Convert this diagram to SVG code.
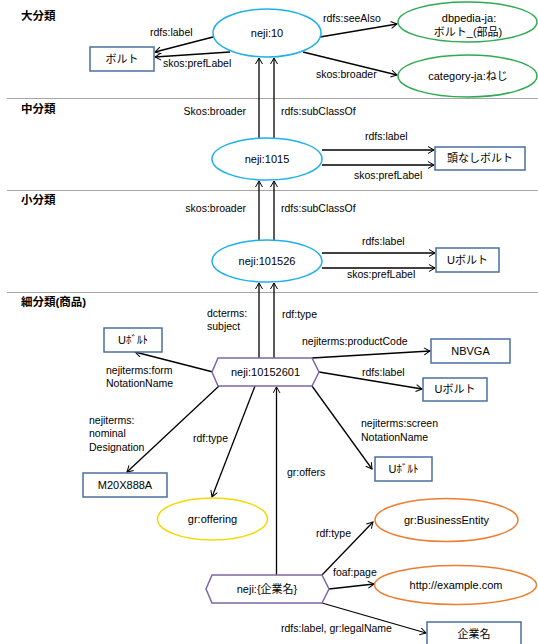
<svg xmlns="http://www.w3.org/2000/svg" width="538" height="644" viewBox="0 0 538 644">
<style>
text{font-family:"Liberation Sans","Noto Sans CJK JP",sans-serif;fill:#000}
.t{font-size:11px;text-anchor:middle}
.l{font-size:10.5px}
.h{font-size:11.5px;font-weight:bold}
.sep{stroke:#a6a6a6;stroke-width:1.2}
.blue{fill:#fff;stroke:#1fb0ea;stroke-width:1.5}
.green{fill:#fff;stroke:#2eaa50;stroke-width:1.5}
.orange{fill:#fff;stroke:#ed7d31;stroke-width:1.5}
.yellow{fill:#fff;stroke:#f5d800;stroke-width:1.5}
.box{fill:#fff;stroke:#4a6fa0;stroke-width:1.5}
.hex{fill:#fff;stroke:#7e65a3;stroke-width:1.5}
.c line{stroke:#000;stroke-width:1.3;marker-end:url(#ah)}
</style>
<defs>
<marker id="ah" markerUnits="userSpaceOnUse" markerWidth="8" markerHeight="9" refX="6.5" refY="4" orient="auto">
<path d="M0.5,0.5 L6.5,4 L0.5,7.5" fill="none" stroke="#000" stroke-width="1"/>
</marker>
</defs>
<rect width="538" height="644" fill="#fff"/>
<g id="sections">
<line class="sep" x1="7" y1="98.5" x2="538" y2="98.5"/>
<line class="sep" x1="7" y1="190.5" x2="538" y2="190.5"/>
<line class="sep" x1="7" y1="292.5" x2="538" y2="292.5"/>
<text class="h" x="21" y="20">大分類</text>
<text class="h" x="21" y="113">中分類</text>
<text class="h" x="21" y="204">小分類</text>
<text class="h" x="21" y="306">細分類(商品)</text>
</g>
<g class="c" id="connectors">
<line x1="213" y1="37" x2="155" y2="52"/>
<line x1="230" y1="52" x2="155" y2="57"/>
<line x1="320" y1="37" x2="397" y2="24"/>
<line x1="303" y1="52" x2="397" y2="75"/>
<line x1="259" y1="138" x2="259" y2="58"/>
<line x1="274" y1="138" x2="274" y2="58"/>
<line x1="322" y1="150" x2="434" y2="150"/>
<line x1="322" y1="165" x2="434" y2="165"/>
<line x1="259" y1="240" x2="259" y2="181"/>
<line x1="274" y1="240" x2="274" y2="181"/>
<line x1="322" y1="253" x2="435" y2="253"/>
<line x1="322" y1="268" x2="435" y2="268"/>
<line x1="259" y1="358" x2="259" y2="283"/>
<line x1="274" y1="358" x2="274" y2="283"/>
<line x1="213" y1="372" x2="135" y2="352"/>
<line x1="312" y1="358" x2="430" y2="351"/>
<line x1="319" y1="372" x2="422" y2="389"/>
<line x1="312" y1="386" x2="372" y2="469"/>
<line x1="219" y1="386" x2="127" y2="472"/>
<line x1="255" y1="386" x2="212" y2="497"/>
<line x1="276.5" y1="575" x2="276.5" y2="387"/>
<line x1="322" y1="575" x2="373" y2="522"/>
<line x1="329" y1="589" x2="374" y2="584"/>
<line x1="322" y1="603" x2="426" y2="633"/>
</g>
<g id="edge-labels">
<text class="l" x="150" y="36">rdfs:label</text>
<text class="l" x="163" y="67">skos:prefLabel</text>
<text class="l" x="323" y="22">rdfs:seeAlso</text>
<text class="l" x="316" y="78">skos:broader</text>
<text class="l" x="246" y="115" text-anchor="end">Skos:broader</text>
<text class="l" x="281" y="115">rdfs:subClassOf</text>
<text class="l" x="365" y="140">rdfs:label</text>
<text class="l" x="354" y="179">skos:prefLabel</text>
<text class="l" x="246" y="212" text-anchor="end">skos:broader</text>
<text class="l" x="281" y="212">rdfs:subClassOf</text>
<text class="l" x="362" y="245">rdfs:label</text>
<text class="l" x="347" y="278">skos:prefLabel</text>
<text class="l" x="207" y="317">dcterms:</text>
<text class="l" x="207" y="330">subject</text>
<text class="l" x="282" y="318">rdf:type</text>
<text class="l" x="302" y="345">nejiterms:productCode</text>
<text class="l" x="106" y="374">nejiterms:form</text>
<text class="l" x="106" y="387">NotationName</text>
<text class="l" x="362" y="376">rdfs:label</text>
<text class="l" x="89" y="424">nejiterms:</text>
<text class="l" x="89" y="437">nominal</text>
<text class="l" x="89" y="451">Designation</text>
<text class="l" x="193" y="442">rdf:type</text>
<text class="l" x="361" y="427">nejiterms:screen</text>
<text class="l" x="361" y="441">NotationName</text>
<text class="l" x="287" y="476">gr:offers</text>
<text class="l" x="316" y="537">rdf:type</text>
<text class="l" x="333" y="576">foaf:page</text>
<text class="l" x="281" y="632">rdfs:label, gr:legalName</text>
</g>
<g id="neji10"><ellipse class="blue" cx="267" cy="33" rx="54" ry="24"/><text class="t" x="267" y="37">neji:10</text></g>
<g id="bolt"><rect class="box" x="90" y="47" width="64" height="24"/><text class="t" x="122" y="63">ボルト</text></g>
<g id="dbpedia"><ellipse class="green" cx="467.5" cy="22" rx="69.5" ry="20"/><text class="t" x="469" y="22">dbpedia-ja:</text><text class="t" x="468" y="36">ボルト_(部品)</text></g>
<g id="category"><ellipse class="green" cx="467.5" cy="76" rx="69.5" ry="21"/><text class="t" x="468" y="80">category-ja:ねじ</text></g>
<g id="neji1015"><ellipse class="blue" cx="267" cy="159" rx="55" ry="21"/><text class="t" x="267" y="163">neji:1015</text></g>
<g id="headless"><rect class="box" x="435" y="147" width="90" height="23"/><text class="t" x="480" y="162">頭なしボルト</text></g>
<g id="neji101526"><ellipse class="blue" cx="267" cy="261" rx="55" ry="21"/><text class="t" x="267" y="265">neji:101526</text></g>
<g id="ubolt1"><rect class="box" x="436" y="248" width="63" height="24"/><text class="t" x="467.5" y="264">Uボルト</text></g>
<g id="neji10152601"><polygon class="hex" points="212,372 218,358 312,358 319,372 312,386 218,386"/><text class="t" x="265.5" y="376">neji:10152601</text></g>
<g id="ubolt-form"><rect class="box" x="104" y="328" width="58" height="24"/><text class="t" x="133" y="344">Uﾎﾞﾙﾄ</text></g>
<g id="nbvga"><rect class="box" x="431" y="339" width="79" height="24"/><text class="t" x="470.5" y="355">NBVGA</text></g>
<g id="ubolt-label"><rect class="box" x="423" y="378" width="64" height="23"/><text class="t" x="455" y="393">Uボルト</text></g>
<g id="m20"><rect class="box" x="83" y="473" width="84" height="24"/><text class="t" x="125" y="489">M20X888A</text></g>
<g id="ubolt-screen"><rect class="box" x="375" y="457" width="57" height="24"/><text class="t" x="403.5" y="473">Uﾎﾞﾙﾄ</text></g>
<g id="offering"><ellipse class="yellow" cx="212.5" cy="519" rx="55" ry="21"/><text class="t" x="212.5" y="523">gr:offering</text></g>
<g id="business"><ellipse class="orange" cx="446.5" cy="520" rx="71.5" ry="21.5"/><text class="t" x="446.5" y="524">gr:BusinessEntity</text></g>
<g id="example"><ellipse class="orange" cx="455.5" cy="585" rx="81" ry="19.5"/><text class="t" x="456" y="589">http://example.com</text></g>
<g id="company-node"><polygon class="hex" points="206,589 212,575 322,575 329,589 322,603 212,603"/><text class="t" x="267" y="593">neji:{企業名}</text></g>
<g id="company-name"><rect class="box" x="427" y="622" width="94" height="24"/><text class="t" x="474" y="638">企業名</text></g>
</svg>
